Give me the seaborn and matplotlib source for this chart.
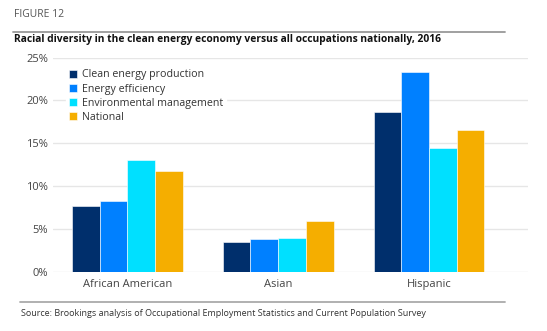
import matplotlib
matplotlib.use("Agg")
import matplotlib.pyplot as plt
from matplotlib.lines import Line2D
import seaborn as sns
import pandas as pd

categories = ["African American", "Asian", "Hispanic"]
series = ["Clean energy production", "Energy efficiency", "Environmental management", "National"]
clean_energy = [7.7, 3.5, 18.7]
energy_eff = [8.3, 3.8, 23.3]
env_mgmt = [13.1, 4.0, 14.5]
national = [11.8, 6.0, 16.6]
yticks = [0, 5, 10, 15, 20, 25]
colors = ["#002F6C", "#0080FF", "#00E0FF", "#F5AE00"]

rows = []
for s, vals in zip(series, [clean_energy, energy_eff, env_mgmt, national]):
    for c, v in zip(categories, vals):
        rows.append({"category": c, "series": s, "value": v})
df = pd.DataFrame(rows)

sns.set_theme(style="white")
plt.rcParams["font.family"] = ["Open Sans", "DejaVu Sans"]

fig = plt.figure(figsize=(5.47, 3.31), dpi=100)
ax = fig.add_axes([0.097, 0.178, 0.868, 0.648])

sns.barplot(data=df, x="category", y="value", hue="series", order=categories,
            hue_order=series, palette=colors, width=0.735, gap=0,
            edgecolor="white", linewidth=0.4, saturation=1, ax=ax, zorder=3)

ax.set_ylim(0, 25)
ax.set_xlim(-0.493, 2.656)
ax.set_yticks(yticks)
ax.set_yticklabels([f"{t}%" for t in yticks])
ax.grid(axis="y", color="#E6E6E6", linewidth=1, zorder=0)
ax.grid(axis="x", visible=False)
for sp in ax.spines.values():
    sp.set_visible(False)
ax.tick_params(axis="both", length=0, labelsize=8, colors="#444444")
ax.tick_params(axis="y", pad=3.5)
ax.tick_params(axis="x", pad=5)
ax.set_xlabel("")
ax.set_ylabel("")

leg = ax.legend(loc="upper left", bbox_to_anchor=(0.015, 0.985), frameon=True,
                framealpha=1, edgecolor="white", facecolor="white",
                fontsize=7.7, handlelength=0.8, handleheight=0.8,
                handletextpad=0.4, labelspacing=0.3, borderpad=0.3)
for t in leg.get_texts():
    t.set_color("#333333")

fig.text(0.026, 0.956, "FIGURE 12", fontsize=7.5, color="#555555", va="center")
fig.add_artist(Line2D([0.024, 0.924], [0.903, 0.903], color="#999999", linewidth=1.3, transform=fig.transFigure))
fig.text(0.026, 0.88, "Racial diversity in the clean energy economy versus all occupations nationally, 2016",
         fontsize=7.4, fontweight="bold", color="#111111", va="center")
fig.add_artist(Line2D([0.036, 0.924], [0.087, 0.087], color="#AAAAAA", linewidth=1.3, transform=fig.transFigure))
fig.text(0.038, 0.054, "Source: Brookings analysis of Occupational Employment Statistics and Current Population Survey",
         fontsize=6.5, color="#333333", va="center")

fig.savefig("out.png", dpi=100)
